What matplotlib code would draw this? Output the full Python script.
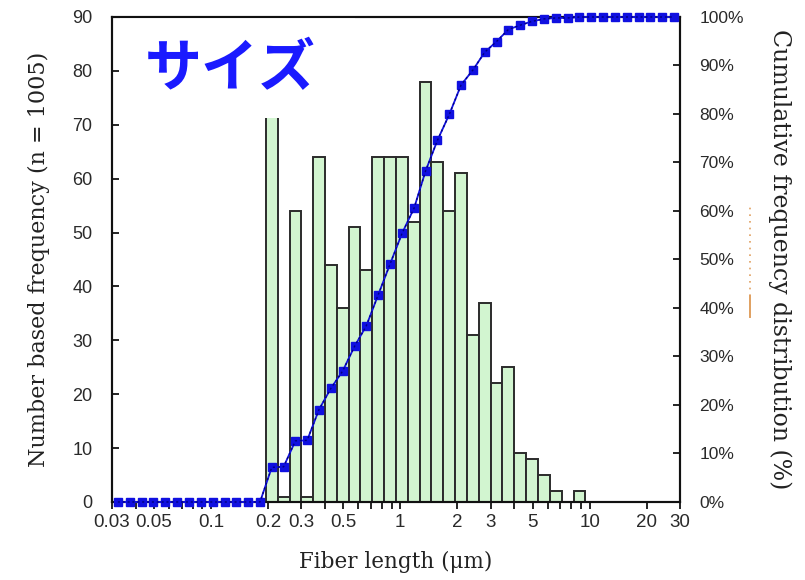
import numpy as np
import matplotlib
matplotlib.use("Agg")
import matplotlib.pyplot as plt
from matplotlib.patches import Rectangle
from matplotlib.lines import Line2D

# histogram bin edges (um)
bin_edges = [0.0300, 0.0346, 0.0400, 0.0462, 0.0533, 0.0616, 0.0711, 0.0821,
             0.0948, 0.110, 0.127, 0.146, 0.169, 0.195, 0.225, 0.260, 0.300,
             0.346, 0.400, 0.462, 0.533, 0.616, 0.711, 0.821, 0.949, 1.10,
             1.27, 1.46, 1.69, 1.95, 2.25, 2.60, 3.00, 3.46, 4.00, 4.62,
             5.34, 6.16, 7.12, 8.22, 9.49, 11.0, 12.7, 14.6, 16.9, 19.5,
             22.5, 26.0, 30.0]

# fiber counts per bin
counts = [0, 0, 0, 0, 0, 0, 0, 0, 0, 0, 0, 0, 0,
          72, 1, 54, 1, 64, 44, 36, 51, 43, 64, 64, 64, 52, 78, 63, 54, 61,
          31, 37, 22, 25, 9, 8, 5, 2, 0, 2,
          0, 0, 0, 0, 0, 0, 0, 0]

x_ticks = [0.03, 0.05, 0.1, 0.2, 0.3, 0.5, 1, 2, 3, 5, 10, 20, 30]
x_labels = ["0.03", "0.05", "0.1", "0.2", "0.3", "0.5", "1", "2", "3", "5", "10", "20", "30"]
x_minor = [0.04, 0.06, 0.07, 0.08, 0.09, 0.4, 0.6, 0.7, 0.8, 0.9,
           4, 6, 7, 8, 9]
y_left = [0, 10, 20, 30, 40, 50, 60, 70, 80, 90]
y_right = [0, 10, 20, 30, 40, 50, 60, 70, 80, 90, 100]

edges = np.array(bin_edges)
cnt = np.array(counts)
lefts = edges[:-1]
widths = edges[1:] - edges[:-1]
centers = np.sqrt(edges[:-1] * edges[1:])
cum = np.cumsum(cnt) / cnt.sum() * 100

tick_col = "#2a2a2a"
xtick_font = {"family": "Liberation Sans", "size": 13.5, "color": tick_col}
ytick_font = {"family": "Liberation Sans", "size": 13, "color": tick_col}
rtick_font = {"family": "Liberation Sans", "size": 12.5, "color": tick_col}
xlabel_font = {"family": "DejaVu Serif", "size": 15.5, "color": "#222222"}
ylabel_font = {"family": "DejaVu Serif", "size": 16, "color": "#222222"}
rlabel_font = {"family": "DejaVu Serif", "size": 17, "color": "#222222"}

fig = plt.figure(figsize=(8.05, 5.8), dpi=100)
ax = fig.add_axes([0.1391, 0.1345, 0.7056, 0.8362])

nz = cnt > 0
ax.bar(lefts[nz], cnt[nz], width=widths[nz], align="edge",
       color="#d2f5d0", edgecolor="#2b2b2b", linewidth=1.4, zorder=2)

ax.set_xscale("log")
ax.set_xlim(0.03, 30)
ax.set_ylim(0, 90)
ax.set_xticks(x_ticks)
ax.set_xticklabels(x_labels, fontdict=xtick_font)
ax.set_xticks(x_minor, minor=True)
ax.set_xticklabels([], minor=True)
ax.tick_params(axis="x", which="both", direction="out", length=5, width=1.2, pad=4)
ax.set_yticks(y_left)
ax.set_yticklabels([str(v) for v in y_left], fontdict=ytick_font)
ax.tick_params(axis="y", direction="in", length=5, width=1.2, pad=14)

for s in ax.spines.values():
    s.set_linewidth(1.5)
    s.set_color("#111111")

ax.set_xlabel("Fiber length (\u03bcm)", fontdict=xlabel_font, labelpad=14)
ax.set_ylabel("Number based frequency (n = 1005)", fontdict=ylabel_font, labelpad=16)

# white label box with Japanese title
ax.add_patch(Rectangle((0.014, 0.792), 0.414, 0.206, transform=ax.transAxes,
                       facecolor="white", edgecolor="none", zorder=5))
ax.text(0.058, 0.893, "サイズ", transform=ax.transAxes, ha="left", va="center",
        fontsize=41, fontweight="bold", color="#1a1aff",
        family=["Noto Sans CJK JP", "DejaVu Sans"], zorder=6)

ax2 = ax.twinx()
ax2.set_ylim(0, 100)
ax2.plot(centers, cum, color="#1414e6", linewidth=1.3, marker="s",
         markersize=6, markerfacecolor="#1010e0", markeredgecolor="#1010e0",
         zorder=3, clip_on=False)
ax2.plot(centers, cum, color="#000080", linewidth=1.0, linestyle=(0, (1.5, 2)),
         zorder=4, clip_on=False)
ax2.set_yticks(y_right)
ax2.set_yticklabels([f"{v}%" for v in y_right], fontdict=rtick_font)
ax2.tick_params(axis="y", direction="in", length=5, width=1.2, pad=14)
for s in ax2.spines.values():
    s.set_linewidth(1.5)
    s.set_color("#111111")
ax2.set_ylabel("Cumulative frequency distribution (%)", fontdict=rlabel_font,
               rotation=-90, labelpad=34)

# small orange dotted mark next to the right label
fig.add_artist(Line2D([0.9317, 0.9317], [0.49, 0.643], transform=fig.transFigure,
                      color="#e0a060", linewidth=1.2, linestyle=(0, (1, 3))))
fig.add_artist(Line2D([0.9317, 0.9317], [0.4534, 0.49], transform=fig.transFigure,
                      color="#e0a060", linewidth=1.4))

fig.savefig("out.png", dpi=100)
